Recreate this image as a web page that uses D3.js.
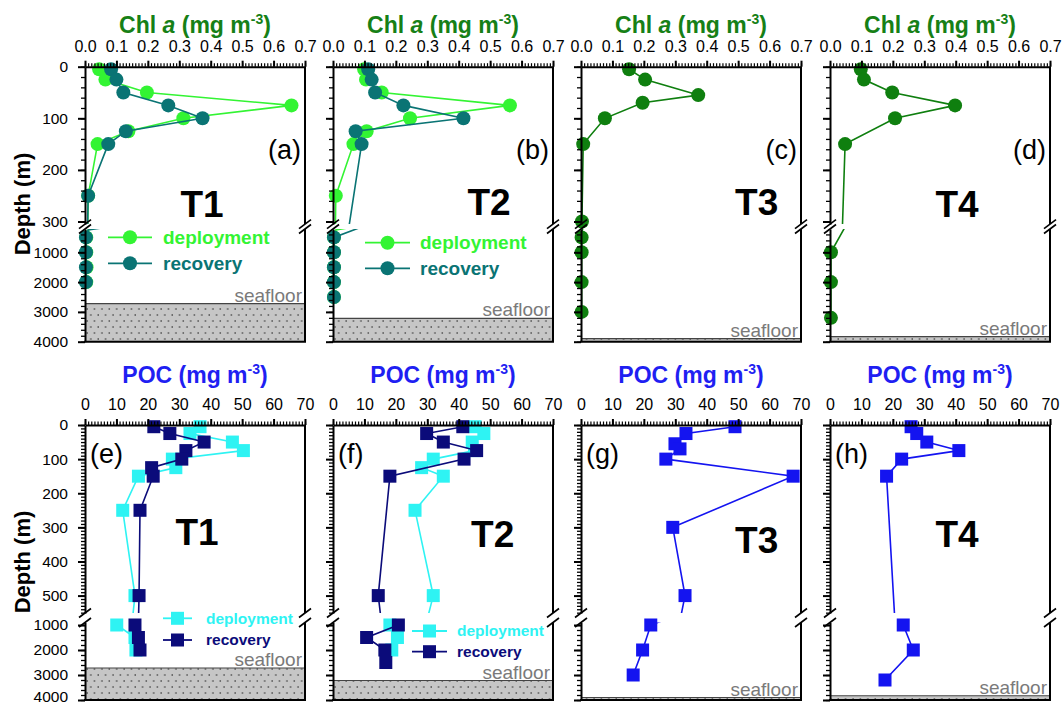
<!DOCTYPE html>
<html><head><meta charset="utf-8">
<script src="https://cdn.jsdelivr.net/npm/d3@7"></script>
<style>body{margin:0;background:#fff}svg{display:block}text{font-family:"Liberation Sans",Arial,sans-serif}</style>
</head><body><svg id="c" width="1063" height="706"></svg>
<script>
// ---------- tick labels ----------
const chlTickValues = [0,0.1,0.2,0.3,0.4,0.5,0.6,0.7];
const chlTickLabels = ["0.0","0.1","0.2","0.3","0.4","0.5","0.6","0.7"];
const pocTickValues = [0,10,20,30,40,50,60,70];
const pocTickLabels = ["0","10","20","30","40","50","60","70"];
const depthTicksChlUpper = [0,100,200,300];
const depthTicksPocUpper = [0,100,200,300,400,500];
const depthTicksLower = [1000,2000,3000,4000];
const stations = ["T1","T2","T3","T4"];
const chlLetters = ["(a)","(b)","(c)","(d)"];
const pocLetters = ["(e)","(f)","(g)","(h)"];
const seafloorDepth = [2720,3220,3900,3830];
const legendLabels = ["deployment","recovery"];

// ---------- Chl a data ----------
const t1ChlDepth   = [5,25,50,75,100,125,150,250,500,1000,1500,2000];
const t1ChlDeploy  = [0.045,0.065,0.197,0.657,0.313,0.138,0.040,0.010,0.004,0.004,0.005,0.004];
const t1ChlRecover = [0.083,0.100,0.122,0.265,0.374,0.130,0.074,0.010,0.003,0.003,0.003,0.003];
const t2ChlDeployDepth  = [5,25,50,75,100,125,150,250,500,1000,1500,2000,2500];
const t2ChlDeploy       = [0.099,0.105,0.155,0.563,0.245,0.107,0.065,0.009,0.003,0.003,0.003,0.003,0.003];
const t2ChlRecoverDepth = [5,25,50,75,100,125,150,500,1000,1500,2000,2500];
const t2ChlRecover      = [0.112,0.123,0.134,0.224,0.415,0.072,0.091,0.003,0.003,0.003,0.003,0.003];
const t3ChlDepth = [5,25,55,70,100,150,300,500,1000,2000,3000];
const t3Chl      = [0.153,0.204,0.373,0.196,0.076,0.007,0.003,0.002,0.002,0.002,0.002];
const t4ChlDepth = [5,25,50,75,100,150,1000,2000,3200];
const t4Chl      = [0.098,0.108,0.198,0.398,0.207,0.048,0.003,0.003,0.003];

// ---------- POC data ----------
const t1PocDepth   = [5,25,50,75,100,125,150,250,500,1000,1500,2000];
const t1PocDeploy  = [36.6,33.4,46.9,50.4,27.8,28.9,17.0,12.0,15.9,10.1,15.9,16.2];
const t1PocRecover = [21.9,27.0,37.9,32.1,30.8,21.2,21.7,17.5,17.2,15.9,17.0,17.5];
const t2PocDeployDepth  = [5,25,50,75,100,125,150,250,500,1000,1500,2000];
const t2PocDeploy       = [45.2,48.0,44.3,45.0,31.9,28.2,35.1,26.1,31.9,18.1,20.5,18.7];
const t2PocRecoverDepth = [5,25,50,75,100,150,500,1000,1500,2000,2500];
const t2PocRecover      = [41.3,29.8,35.1,45.7,41.7,18.1,14.4,20.8,10.7,16.5,16.8];
const t3PocDepth = [5,25,55,70,100,150,300,500,1000,2000,3000];
const t3Poc      = [49.0,33.4,29.9,31.5,27.0,67.5,29.2,33.1,22.2,19.6,16.6];
const t4PocDepth = [5,25,50,75,100,150,1000,2000,3200];
const t4Poc      = [25.8,27.6,30.8,41.0,22.8,18.0,23.3,26.5,17.5];

// ---------- colours ----------
const C = {
  chlTitle:"#168016", chlDep:"#33f433", chlRec:"#0a7474", chlOne:"#0f7f0f",
  pocTitle:"#1f1ff2", pocDep:"#2ef3f3", pocRec:"#0b0b7a", pocOne:"#1414f0"
};

const svg = d3.select("#c");
const defs = svg.append("defs");
const pat = defs.append("pattern").attr("id","sea").attr("patternUnits","userSpaceOnUse")
  .attr("width",7.4).attr("height",12);
pat.append("rect").attr("width",7.4).attr("height",12).attr("fill","#c6c6c6");
pat.append("circle").attr("cx",2).attr("cy",3).attr("r",0.75).attr("fill","#222");
pat.append("circle").attr("cx",5.7).attr("cy",9).attr("r",0.75).attr("fill","#222");

const lefts = [85,333,581,830], W = 220;
const rows = [
  { top:66.7, bottom:341.7, upper:[0,305], upperR:[66.7,224.1], lower:[218,4000], lowerR:[229,341.7],
    xDomain:[0,0.7], xTicks:chlTickValues, xLabels:chlTickLabels, xMinor:d3.range(0,71).map(i=>i/100),
    yMajorU:depthTicksChlUpper, yMinorU:d3.range(0,306,20),
    yMinorL:d3.range(400,4001,200), titleY:33, labelY:51.7, kind:"circle",
    titleMain:"Chl ", titleIt:"a", titleColor:C.chlTitle },
  { top:425, bottom:700, upper:[0,551], upperR:[425,613], lower:[900,4000], lowerR:[622.5,700],
    xDomain:[0,70], xTicks:pocTickValues, xLabels:pocTickLabels, xMinor:d3.range(0,71),
    yMajorU:depthTicksPocUpper, yMinorU:d3.range(0,551,10),
    yMinorL:d3.range(1000,4001,200), titleY:383, labelY:410, kind:"square",
    titleMain:"POC", titleIt:"", titleColor:C.pocTitle }
];

const panels = [
  {row:0,col:0,series:[{depth:t1ChlDepth,values:t1ChlDeploy,color:C.chlDep},{depth:t1ChlDepth,values:t1ChlRecover,color:C.chlRec}],
   tx:117,ty:216.7, letter:chlLetters[0], legend:{x1:108,x2:152,y:[237.3,263.3],tx:163,fs:19}},
  {row:0,col:1,series:[{depth:t2ChlDeployDepth,values:t2ChlDeploy,color:C.chlDep},{depth:t2ChlRecoverDepth,values:t2ChlRecover,color:C.chlRec}],
   tx:156,ty:215, letter:chlLetters[1], legend:{x1:365,x2:410,y:[242.7,268.3],tx:420,fs:19}},
  {row:0,col:2,series:[{depth:t3ChlDepth,values:t3Chl,color:C.chlOne}], tx:175.7,ty:215, letter:chlLetters[2]},
  {row:0,col:3,series:[{depth:t4ChlDepth,values:t4Chl,color:C.chlOne}], tx:127,ty:216.7, letter:chlLetters[3]},
  {row:1,col:0,series:[{depth:t1PocDepth,values:t1PocDeploy,color:C.pocDep},{depth:t1PocDepth,values:t1PocRecover,color:C.pocRec}],
   tx:112,ty:545, letter:pocLetters[0], legend:{x1:163,x2:192,y:[618.3,640],tx:206,fs:15.5}},
  {row:1,col:1,series:[{depth:t2PocDeployDepth,values:t2PocDeploy,color:C.pocDep},{depth:t2PocRecoverDepth,values:t2PocRecover,color:C.pocRec}],
   tx:159.7,ty:546.7, letter:pocLetters[1], legend:{x1:412,x2:447,y:[631,651.7],tx:457,fs:15.5}},
  {row:1,col:2,series:[{depth:t3PocDepth,values:t3Poc,color:C.pocOne}], tx:175.7,ty:553, letter:pocLetters[2]},
  {row:1,col:3,series:[{depth:t4PocDepth,values:t4Poc,color:C.pocOne}], tx:127,ty:546.7, letter:pocLetters[3]}
];

function marker(g, kind, cx, cy, color){
  if(kind==="circle") g.append("circle").attr("cx",cx).attr("cy",cy).attr("r",7).attr("fill",color);
  else g.append("rect").attr("x",cx-6.5).attr("y",cy-6.5).attr("width",13).attr("height",13).attr("fill",color);
}
function styleAxis(sel, fs){
  sel.select(".domain").attr("stroke","#000").attr("stroke-width",2);
  sel.selectAll(".tick line").attr("stroke","#000");
  sel.selectAll("text").attr("font-size",fs).attr("fill","#000")
     .attr("font-family",'"Liberation Sans",Arial,sans-serif');
  sel.attr("font-family",null);
}
function breakMark(g,x,y){
  g.append("line").attr("x1",x-6).attr("y1",y+4.5).attr("x2",x+6).attr("y2",y-4.5)
   .attr("stroke","#000").attr("stroke-width",1.6);
}

panels.forEach((p,pi)=>{
  const row = rows[p.row], L = lefts[p.col], R = L+W;
  const x = d3.scaleLinear().domain(row.xDomain).range([L,R]);
  const yU = d3.scaleLinear().domain(row.upper).range(row.upperR);
  const yL = d3.scaleLinear().domain(row.lower).range(row.lowerR);
  const g = svg.append("g");
  const idU = "cu"+pi, idL = "cl"+pi;
  defs.append("clipPath").attr("id",idU).append("rect").attr("x",L).attr("y",row.upperR[0])
    .attr("width",W).attr("height",row.upperR[1]-row.upperR[0]);
  defs.append("clipPath").attr("id",idL).append("rect").attr("x",L).attr("y",row.lowerR[0])
    .attr("width",W).attr("height",row.lowerR[1]-row.lowerR[0]);

  // seafloor
  const sf = yL(seafloorDepth[p.col]);
  g.append("rect").attr("x",L).attr("y",sf).attr("width",W).attr("height",row.bottom-sf).attr("fill","url(#sea)");
  g.append("line").attr("x1",L).attr("x2",R).attr("y1",sf).attr("y2",sf).attr("stroke","#444").attr("stroke-width",1.2);
  g.append("text").attr("x",R-3).attr("y",sf-2).attr("text-anchor","end").attr("font-size",19)
    .attr("fill","#7a7a7a").text("seafloor");

  // series
  p.series.forEach(s=>{
    const pts = s.depth.map((d,i)=>({d, v:s.values[i]}));
    [[yU,idU],[yL,idL]].forEach(([ys,id])=>{
      g.append("path").datum(pts).attr("clip-path",`url(#${id})`)
        .attr("d", d3.line().x(q=>x(q.v)).y(q=>ys(q.d)))
        .attr("fill","none").attr("stroke",s.color).attr("stroke-width",1.6);
    });
    pts.forEach(q=>{
      const yy = q.d<=row.upper[1] ? yU(q.d) : yL(q.d);
      marker(g,row.kind,x(q.v),yy,s.color);
    });
  });

  // top axis
  const ga = g.append("g").attr("transform",`translate(0,${row.top})`);
  const gm = ga.append("g").call(d3.axisTop(x).tickValues(row.xMinor).tickSize(3.5).tickSizeOuter(0).tickFormat(""));
  gm.selectAll(".tick line").attr("stroke-width",1.2); gm.select(".domain").remove();
  const gM = ga.append("g").call(d3.axisTop(x).tickValues(row.xTicks).tickSize(6).tickPadding(9).tickSizeOuter(0)
     .tickFormat((d,i)=>row.xLabels[i]));
  styleAxis(gM,16); gM.selectAll(".tick line").attr("stroke-width",2);

  // left axes (upper and lower segments)
  [[yU,row.yMajorU,row.yMinorU],[yL,depthTicksLower,row.yMinorL]].forEach(([ys,maj,min])=>{
    const a = g.append("g").attr("transform",`translate(${L},0)`);
    const am = a.append("g").call(d3.axisLeft(ys).tickValues(min).tickSize(4).tickSizeOuter(0).tickFormat(""));
    am.selectAll(".tick line").attr("stroke-width",1.3); am.select(".domain").remove();
    const aM = a.append("g").call(d3.axisLeft(ys).tickValues(maj).tickSize(7).tickPadding(10).tickSizeOuter(0)
      .tickFormat(p.col===0 ? (d=>d) : ""));
    styleAxis(aM,15.5); aM.selectAll(".tick line").attr("stroke-width",2);
    if(p.row===1) aM.selectAll(".tick text").filter(d=>d===4000).attr("dy","0.12em");
  });
  // right axis and bottom
  [[row.upperR[0],row.upperR[1]],[row.lowerR[0],row.lowerR[1]]].forEach(([a,b])=>{
    g.append("line").attr("x1",R).attr("x2",R).attr("y1",a).attr("y2",b).attr("stroke","#000").attr("stroke-width",2);
  });
  g.append("line").attr("x1",L-1).attr("x2",R+1).attr("y1",row.bottom).attr("y2",row.bottom).attr("stroke","#000").attr("stroke-width",2);
  [L,R].forEach(xx=>{ breakMark(g,xx,row.upperR[1]); breakMark(g,xx,row.lowerR[0]); });

  // title
  const t = g.append("text").attr("x",(L+R)/2).attr("y",row.titleY).attr("text-anchor","middle")
    .attr("font-size",23).attr("font-weight","bold").attr("fill",row.titleColor);
  t.append("tspan").text(row.titleMain);
  if(row.titleIt) t.append("tspan").attr("font-style","italic").text(row.titleIt);
  t.append("tspan").text(" (mg m");
  t.append("tspan").attr("dy",-9).attr("font-size",14).text("-3");
  t.append("tspan").attr("dy",9).text(")");

  // station label and letter
  g.append("text").attr("x",L+p.tx).attr("y",p.ty).attr("text-anchor","middle").attr("font-size",37)
    .attr("font-weight","bold").attr("fill","#000").text(stations[p.col]);
  if(p.row===0) g.append("text").attr("x",R-4).attr("y",159).attr("text-anchor","end").attr("font-size",27).attr("fill","#000").text(p.letter);
  else g.append("text").attr("x",L+5).attr("y",463).attr("font-size",27).attr("fill","#000").text(p.letter);

  // legend
  if(p.legend){
    p.series.forEach((s,i)=>{
      const lg = p.legend, yy = lg.y[i];
      g.append("line").attr("x1",lg.x1).attr("x2",lg.x2).attr("y1",yy).attr("y2",yy).attr("stroke",s.color).attr("stroke-width",1.8);
      marker(g,row.kind,(lg.x1+lg.x2)/2,yy,s.color);
      g.append("text").attr("x",lg.tx).attr("y",yy).attr("dy","0.35em").attr("font-size",lg.fs).attr("font-weight","bold")
        .attr("fill",s.color).text(legendLabels[i]);
    });
  }
});

// y-axis titles
[[204],[562]].forEach(([cy])=>{
  svg.append("text").attr("transform",`translate(30,${cy}) rotate(-90)`).attr("text-anchor","middle")
    .attr("font-size",22).attr("font-weight","bold").attr("fill","#000").text("Depth (m)");
});
</script></body></html>
